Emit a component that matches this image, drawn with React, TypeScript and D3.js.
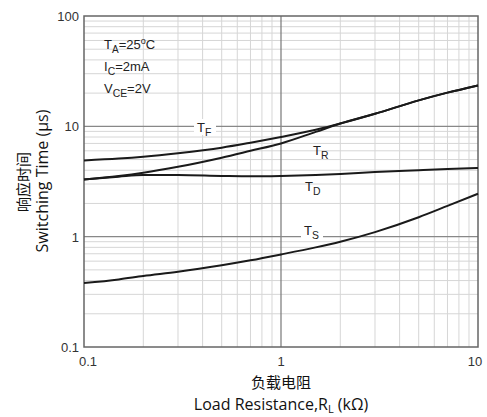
import React from "react";
import * as d3 from "d3";

const xTicks = [0.1, 1, 10];
const yTicks = [0.1, 1, 10, 100];
const xTickLabels = ["0.1", "1", "10"];
const yTickLabels = ["0.1", "1", "10", "100"];

const resistance = [0.1, 0.15, 0.2, 0.3, 0.5, 0.7, 1, 1.5, 2, 3, 5, 7, 10];
const tF = [4.9, 5.1, 5.3, 5.7, 6.4, 7.1, 8.0, 9.3, 10.6, 13.0, 17.2, 20.2, 23.5];
const tR = [3.3, 3.55, 3.8, 4.3, 5.2, 6.0, 7.0, 8.9, 10.6, 13.0, 17.2, 20.2, 23.5];
const tD = [3.3, 3.5, 3.62, 3.62, 3.55, 3.52, 3.55, 3.62, 3.7, 3.85, 4.0, 4.1, 4.2];
const tS = [0.38, 0.41, 0.44, 0.48, 0.55, 0.61, 0.69, 0.8, 0.9, 1.1, 1.5, 1.9, 2.45];

const W = 487, H = 417;
const M = { left: 84, right: 9, top: 16, bottom: 70 };

export default function App() {
  const x = d3.scaleLog().domain([0.1, 10]).range([M.left, W - M.right]);
  const y = d3.scaleLog().domain([0.1, 100]).range([H - M.bottom, M.top]);
  const line = d3.line<number>().x((_, i) => x(resistance[i])).y((d) => y(d)).curve(d3.curveMonotoneX);

  const minorX: number[] = [];
  for (const dec of [0.1, 1]) for (let k = 2; k <= 9; k++) minorX.push(dec * k);
  const minorY: number[] = [];
  for (const dec of [0.1, 1, 10]) for (let k = 2; k <= 9; k++) minorY.push(dec * k);

  const font = "Liberation Sans, Arial, sans-serif";
  const tickColor = "#333";
  const x0 = x(0.1), x1 = x(10), y0 = y(0.1), y1 = y(100);

  const sub = (main: string, s: string, px: number, py: number, rest = "", size = 13) => (
    <text x={px} y={py} fontFamily={font} fontSize={size} fill="#222">
      {main}
      <tspan fontSize={size * 0.8} dy={4}>{s}</tspan>
      {rest ? <tspan dy={-4}>{rest}</tspan> : null}
    </text>
  );

  return (
    <svg width={W} height={H} style={{ position: "absolute", left: 0, top: 0, background: "#fff" }}>
      <rect x={0} y={0} width={W} height={H} fill="#fff" />
      {minorX.map((v) => (
        <line key={"mx" + v} x1={x(v)} x2={x(v)} y1={y1} y2={y0} stroke="#d6d6d6" strokeWidth={1} />
      ))}
      {minorY.map((v) => (
        <line key={"my" + v} x1={x0} x2={x1} y1={y(v)} y2={y(v)} stroke="#d6d6d6" strokeWidth={1} />
      ))}
      <line x1={x(1)} x2={x(1)} y1={y1} y2={y0} stroke="#777" strokeWidth={1.2} />
      {[1, 10].map((v) => (
        <line key={"My" + v} x1={x0} x2={x1} y1={y(v)} y2={y(v)} stroke="#888" strokeWidth={1.2} />
      ))}
      <rect x={x0} y={y1} width={x1 - x0} height={y0 - y1} fill="none" stroke="#666" strokeWidth={1.5} />

      {[tF, tR, tD, tS].map((s, i) => (
        <path key={i} d={line(s) || ""} fill="none" stroke="#1a1a1a" strokeWidth={2} />
      ))}

      {/* curve labels with white backgrounds */}
      <rect x={194} y={119} width={22} height={16} fill="#fff" />
      {sub("T", "F", 197, 132)}
      {sub("T", "R", 313, 155)}
      {sub("T", "D", 305, 191)}
      <rect x={301} y={224} width={22} height={16} fill="#fff" />
      {sub("T", "S", 304, 235)}

      {/* conditions */}
      <text x={104} y={49} fontFamily={font} fontSize={13} fill="#222">
        T<tspan fontSize={10} dy={4}>A</tspan><tspan dy={-4}>=25</tspan>
        <tspan fontSize={9} dy={-5}>o</tspan><tspan dy={5}>C</tspan>
      </text>
      {sub("I", "C", 104, 71, "=2mA")}
      {sub("V", "CE", 104, 93, "=2V")}

      {/* ticks */}
      {yTicks.map((v, i) => (
        <text key={"yt" + v} x={x0 - 5} y={y(v) + 5} textAnchor="end" fontFamily={font} fontSize={13} fill={tickColor}>
          {yTickLabels[i]}
        </text>
      ))}
      {xTicks.map((v, i) => (
        <text key={"xt" + v} x={x(v) + (i === 0 ? 4 : i === 2 ? -3 : 0)} y={y0 + 19} textAnchor="middle" fontFamily={font} fontSize={13} fill={tickColor}>
          {xTickLabels[i]}
        </text>
      ))}

      {/* axis titles */}
      <text transform={`translate(29,182) rotate(-90)`} textAnchor="middle" fontFamily="Noto Sans CJK SC, sans-serif" fontSize={15} fill="#111">
        响应时间
      </text>
      <text transform={`translate(48,181) rotate(-90)`} textAnchor="middle" fontFamily="Open Sans, Noto Sans, sans-serif" fontSize={16} fill="#111">
        Switching Time (µs)
      </text>
      <text x={281} y={388} textAnchor="middle" fontFamily="Noto Sans CJK SC, sans-serif" fontSize={15} fill="#111">
        负载电阻
      </text>
      <text x={281} y={410} textAnchor="middle" fontFamily="Open Sans, Noto Sans, sans-serif" fontSize={16} fill="#111">
        Load Resistance,R<tspan fontSize={11} dy={3}>L</tspan><tspan dy={-3}> (kΩ)</tspan>
      </text>
    </svg>
  );
}
